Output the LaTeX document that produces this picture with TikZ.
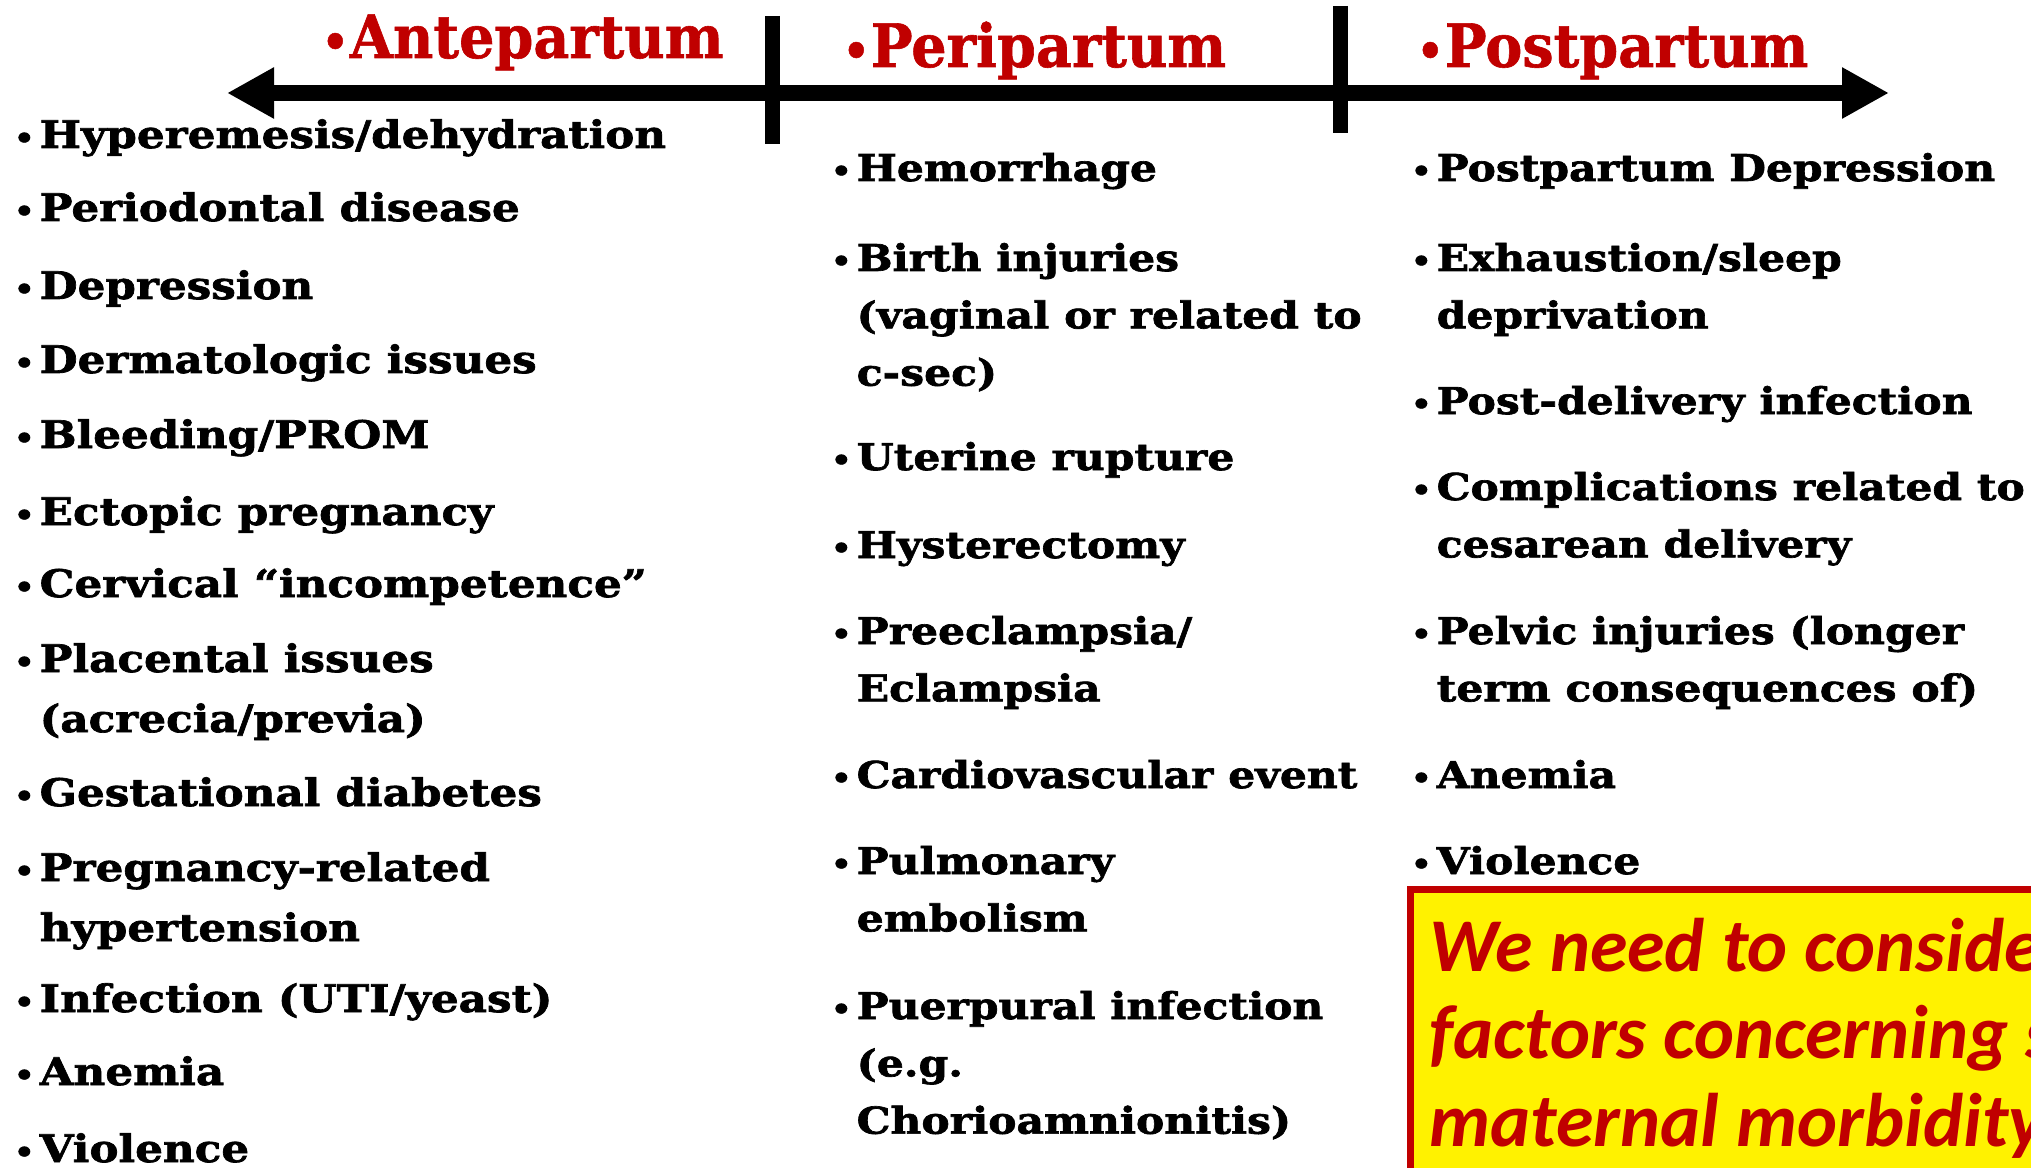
\documentclass[tikz,border=0pt]{standalone}
\usepackage{fontspec}
\setmainfont{DejaVu Serif}
\newfontfamily\riskfont[FakeStretch=1.15,FakeBold=1.8]{DejaVu Serif Bold}
\newfontfamily\phasefont[FakeStretch=0.93,FakeBold=1]{DejaVu Serif Bold}
\newfontfamily\notefont{Carlito}
\usetikzlibrary{arrows.meta,positioning}
\definecolor{darkred}{HTML}{C00000}
\tikzset{every node/.style={inner sep=0pt, anchor=base west}}
\tikzstyle{phase} = [font=\phasefont\fontsize{17}{17}\selectfont, text=darkred]
\tikzstyle{risk} = [font=\riskfont\fontsize{10.5}{16.3}\selectfont]
\tikzstyle{riskante} = [font=\riskfont\fontsize{10.8}{17.1}\selectfont]
\tikzstyle{line} = [draw, line width=0.16cm,
    {Triangle[length=0.47cm,width=0.48cm]}-{Triangle[length=0.47cm,width=0.48cm]}]
\tikzstyle{tick} = [draw, line width=0.15cm]
\tikzstyle{note} = [draw=darkred, line width=0.07cm, fill=yellow, anchor=north west,
    minimum width=8cm, minimum height=4cm]
\tikzstyle{notetext} = [font=\notefont\bfseries\itshape\fontsize{21.6}{25}\selectfont,
    text=darkred]
\newcommand{\bul}{\llap{{\fontsize{8}{8}\selectfont\textbullet}\hspace{0.05cm}}}
\newcommand{\riskitem}[1]{\begin{tabular}[t]{@{}l@{}}\bul#1\end{tabular}}
\newcommand{\lines}[1]{\begin{tabular}[t]{@{}l@{}}#1\end{tabular}}
\newcommand{\phasebul}{{\fontsize{13}{13}\selectfont\textbullet}\kern0.01cm}

\begin{document}
\begin{tikzpicture}[x=0.01cm, y=-0.01cm]
    \useasboundingbox (0,0) rectangle (2031,1167);
    \clip (0,0) rectangle (2031,1167);
    \coordinate (past) at (227,93);
    \coordinate (future) at (1889,93);
    \coordinate (birthtop) at (772,16);
    \coordinate (birthbot) at (772,144);
    \coordinate (deliverytop) at (1340,6);
    \coordinate (deliverybot) at (1340,133);
    \path [line] (past) -- (future);
    \path [tick] (birthtop) -- (birthbot);
    \path [tick] (deliverytop) -- (deliverybot);
    \node [phase] (ante) at (321,58) {\phasebul Antepartum};
    \node [phase] (peri) at (842,67) {\phasebul Peripartum};
    \node [phase] (post) at (1416,67) {\phasebul Postpartum};
    \node [riskante] (hyper) at (39,148) {\riskitem{Hyperemesis/dehydration}};
    \node [riskante] (perio) at (39,221) {\riskitem{Periodontal disease}};
    \node [riskante] (depr) at (39,299) {\riskitem{Depression}};
    \node [riskante] (derm) at (39,373) {\riskitem{Dermatologic issues}};
    \node [riskante] (bleed) at (39,448) {\riskitem{Bleeding/PROM}};
    \node [riskante] (ecto) at (39,525) {\riskitem{Ectopic pregnancy}};
    \node [riskante] (cerv) at (39,597) {\riskitem{Cervical “incompetence”}};
    \node [riskante] (plac) at (39,672) {\riskitem{Placental issues\\(acrecia/previa)}};
    \node [riskante] (gdm) at (39,806) {\riskitem{Gestational diabetes}};
    \node [riskante] (htn) at (39,881) {\riskitem{Pregnancy-related\\hypertension}};
    \node [riskante] (uti) at (39,1012) {\riskitem{Infection (UTI/yeast)}};
    \node [riskante] (anemA) at (39,1085) {\riskitem{Anemia}};
    \node [riskante] (violA) at (39,1162) {\riskitem{Violence}};
    \node [risk] (hem) at (856,181) {\riskitem{Hemorrhage}};
    \node [risk] (birth) at (856,271) {\riskitem{Birth injuries\\(vaginal or related to\\c-sec)}};
    \node [risk] (uter) at (856,470) {\riskitem{Uterine rupture}};
    \node [risk] (hyst) at (856,558) {\riskitem{Hysterectomy}};
    \node [risk] (pree) at (856,644) {\riskitem{Preeclampsia/\\Eclampsia}};
    \node [risk] (cardio) at (856,788) {\riskitem{Cardiovascular event}};
    \node [risk] (pe) at (856,874) {\riskitem{Pulmonary\\embolism}};
    \node [risk] (puer) at (856,1019) {\riskitem{Puerpural infection\\(e.g.\\Chorioamnionitis)}};
    \node [risk] (ppd) at (1436,181) {\riskitem{Postpartum Depression}};
    \node [risk] (exh) at (1436,271) {\riskitem{Exhaustion/sleep\\deprivation}};
    \node [risk] (pdi) at (1436,414) {\riskitem{Post-delivery infection}};
    \node [risk] (comp) at (1436,500) {\riskitem{Complications related to\\cesarean delivery}};
    \node [risk] (pelv) at (1436,644) {\riskitem{Pelvic injuries (longer\\term consequences of)}};
    \node [risk] (anemP) at (1436,788) {\riskitem{Anemia}};
    \node [risk] (violP) at (1436,874) {\riskitem{Violence}};
    \node [note] (box) at (1407,886) {};
    \node [notetext] (msg) at (1429,971) {\lines{We need to conside\\factors concerning s\\maternal morbidity}};
\end{tikzpicture}
\end{document}
